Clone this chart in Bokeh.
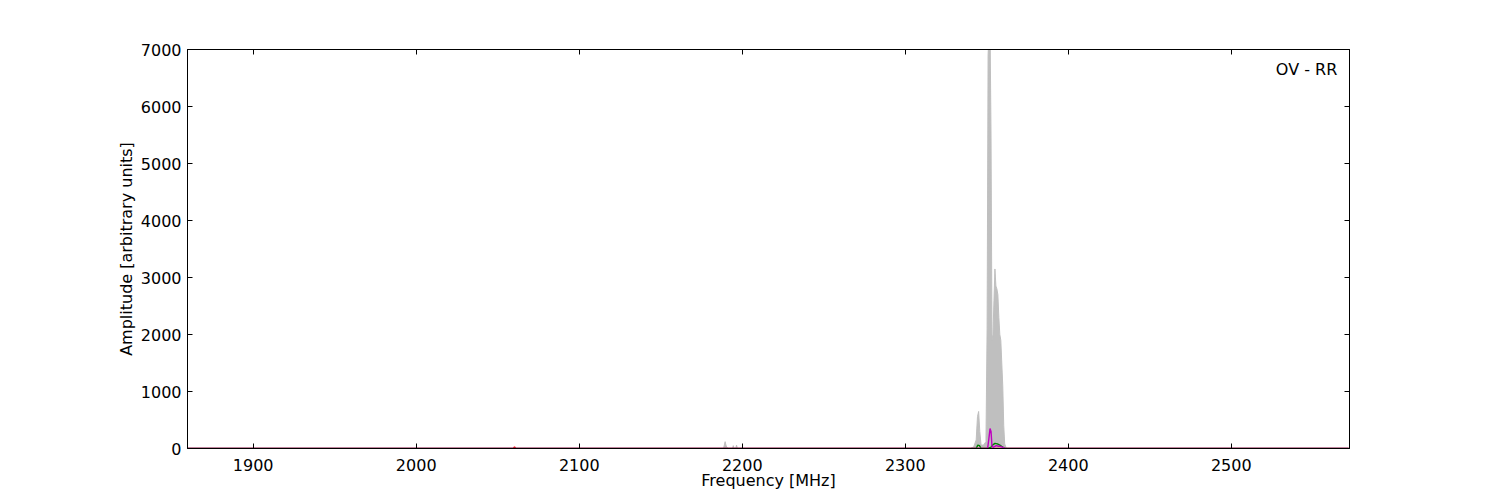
from bokeh.plotting import figure
from bokeh.models import LinearAxis, Range1d, Label, CustomJSTickFormatter
from bokeh.embed import file_html
from bokeh.resources import INLINE

# ---- data ----
grey_freq = [1860, 2188.5, 2189.5, 2190, 2190.5, 2191.5, 2194, 2194.5, 2195, 2196, 2196.5, 2197,
             2340, 2342, 2343.5, 2344.3, 2345, 2345.7, 2346.5, 2348, 2349.5, 2350.2, 2350.8,
             2351.4, 2352, 2352.6, 2353.2, 2353.8, 2354.4, 2355, 2355.6, 2356.2, 2356.8, 2357.4,
             2358, 2358.6, 2359.2, 2359.8, 2360.4, 2361, 2362, 2572]
grey_amp = [0, 0, 120, 60, 20, 0, 0, 50, 0, 0, 60, 0,
            0, 30, 150, 560, 650, 300, 60, 60, 120, 2100, 6900,
            7300, 7400, 5500, 1900, 2000, 2600, 3150, 2850, 2800, 2700, 2300,
            2000, 1900, 1500, 1100, 400, 80, 0, 0]

magenta_freq = [1860, 2348, 2350.5, 2351.2, 2352, 2352.6, 2353.2, 2354, 2355, 2356, 2357, 2358,
                2359, 2360, 2361, 2362, 2572]
magenta_amp = [0, 0, 0, 150, 350, 300, 40, 20, 40, 50, 40, 40, 30, 20, 0, 0, 0]

green_freq = [1860, 2340, 2343.5, 2344.5, 2345.5, 2346.5, 2350, 2352.5, 2353.5, 2355, 2356.5,
              2358, 2359.5, 2361, 2362, 2572]
green_amp = [0, 0, 0, 60, 50, 0, 0, 20, 60, 90, 80, 60, 30, 0, 0, 0]

red_freq = [1860, 2059.5, 2060.3, 2061.1, 2572]
red_amp = [0, 0, 25, 0, 0]

x_ticks = [1900, 2000, 2100, 2200, 2300, 2400, 2500]
y_ticks = [0, 1000, 2000, 3000, 4000, 5000, 6000, 7000]

FONT = "DejaVu Sans"

p = figure(width=1484, height=492, output_backend="svg", toolbar_location=None,
           x_range=Range1d(1859.7, 2572.5), y_range=Range1d(0, 7000),
           min_border_left=187, min_border_right=135, min_border_top=49, min_border_bottom=43)
p.xgrid.visible = False
p.ygrid.visible = False
p.outline_line_color = "black"
p.outline_line_width = 1
p.background_fill_color = "white"
p.border_fill_color = "white"

p.varea(x=grey_freq, y1=0, y2=grey_amp, fill_color="#bfbfbf")
p.line(grey_freq, grey_amp, line_color="#bfbfbf", line_width=1)
p.line(red_freq, red_amp, line_color="#ff0000", line_width=1.4)
p.line(green_freq, green_amp, line_color="#008000", line_width=1.4)
p.line(magenta_freq, magenta_amp, line_color="#bf00bf", line_width=1.4)

def style(ax, ticks):
    ax.ticker = ticks
    ax.major_tick_in = 5
    ax.major_tick_out = 0
    ax.minor_tick_in = 0
    ax.minor_tick_out = 0
    ax.axis_line_color = "black"
    ax.major_tick_line_color = "black"
    ax.major_label_text_font = FONT
    ax.major_label_text_font_size = "16px"
    ax.major_label_text_color = "black"
    ax.axis_label_text_font = FONT
    ax.axis_label_text_font_size = "16px"
    ax.axis_label_text_font_style = "normal"
    ax.axis_label_text_color = "black"

xa = p.xaxis[0]
style(xa, x_ticks)
xa.axis_label = "Frequency [MHz]"
xa.major_label_standoff = 10
xa.axis_label_standoff = -3

ya = p.yaxis[0]
style(ya, y_ticks)
ya.axis_label = "Amplitude [arbitrary units]"
ya.major_label_standoff = 6
ya.axis_label_standoff = 2

blank = CustomJSTickFormatter(code="return ''")
top = LinearAxis(formatter=blank)
style(top, x_ticks)
top.major_label_standoff = 0
p.add_layout(top, "above")
right = LinearAxis(formatter=blank)
style(right, y_ticks)
right.major_label_standoff = 0
p.add_layout(right, "right")

p.add_layout(Label(x=2565, y=6650, text="OV - RR", text_align="right", text_baseline="middle",
                   text_font=FONT, text_font_size="16px", text_color="black"))

open("out.html", "w").write(file_html(p, INLINE))
